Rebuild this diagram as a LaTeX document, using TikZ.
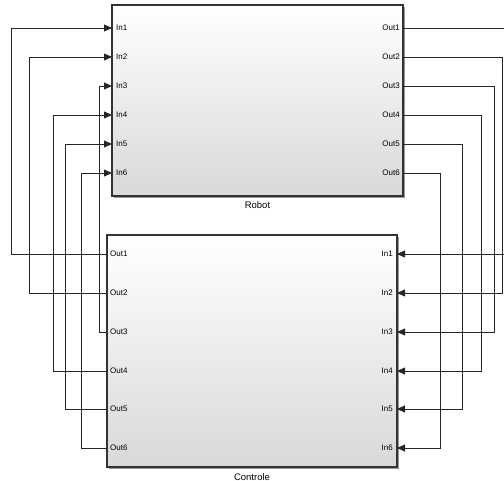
\documentclass[tikz,border=0pt]{standalone}
\usepackage{fontspec}
\setmainfont{Liberation Sans}
\usetikzlibrary{arrows.meta}
\begin{document}
\begin{tikzpicture}[x=1pt,y=-1pt,
  block/.style={draw=black!80, line width=1.2pt, top color=white, bottom color=black!15, inner sep=0pt},
  shadowbox/.style={fill=black!40, draw=none},
  wire/.style={draw=black!85, line width=0.8pt},
  arr/.style={wire, -{Triangle[length=8pt,width=7pt]}},
  plabel/.style={font=\fontsize{8}{9}\selectfont, inner sep=0pt},
  blabel/.style={font=\fontsize{9.5}{11}\selectfont, inner sep=0pt}]
\useasboundingbox (0,0) rectangle (504,481);
% shadows
\fill[shadowbox] (114,7) rectangle (405,198);
\fill[shadowbox] (109,237) rectangle (399,469);
% blocks
\node[block, minimum width=291pt, minimum height=191pt] (R) at (257.5,100.5) {};
\node[block, minimum width=290pt, minimum height=232pt] (C) at (252,351) {};
\node[blabel] (RL) at (257.5,205) {Robot};
\node[blabel] (CL) at (252,477) {Controle};
% Robot ports
\foreach \i/\y in {1/28,2/57,3/86,4/115,5/144,6/173}{
  \coordinate (Ri\i) at (112,\y);
  \coordinate (Ro\i) at (403,\y);
  \node[plabel, anchor=west] (RiL\i) at (116,\y) {In\i};
  \node[plabel, anchor=east] (RoL\i) at (400,\y) {Out\i};
}
% Controle ports
\foreach \i/\y in {1/254,2/293,3/332,4/371,5/409,6/448}{
  \coordinate (Co\i) at (107,\y);
  \coordinate (Ci\i) at (397,\y);
  \node[plabel, anchor=west] (CoL\i) at (110,\y) {Out\i};
  \node[plabel, anchor=east] (CiL\i) at (393,\y) {In\i};
}
% left wires: Controle outputs -> Robot inputs
\foreach \i/\x in {1/11,2/29,3/99,4/53,5/65,6/81}{
  \coordinate (L\i) at (\x,0);
  \draw[arr] (Co\i) -| (L\i |- Ri\i) -- (Ri\i);
}
% right wires: Robot outputs -> Controle inputs
\foreach \i/\x in {1/508,2/502,3/494,4/481,5/462,6/440}{
  \coordinate (Rt\i) at (\x,0);
  \draw[arr] (Ro\i) -| (Rt\i |- Ci\i) -- (Ci\i);
}
\end{tikzpicture}
\end{document}
